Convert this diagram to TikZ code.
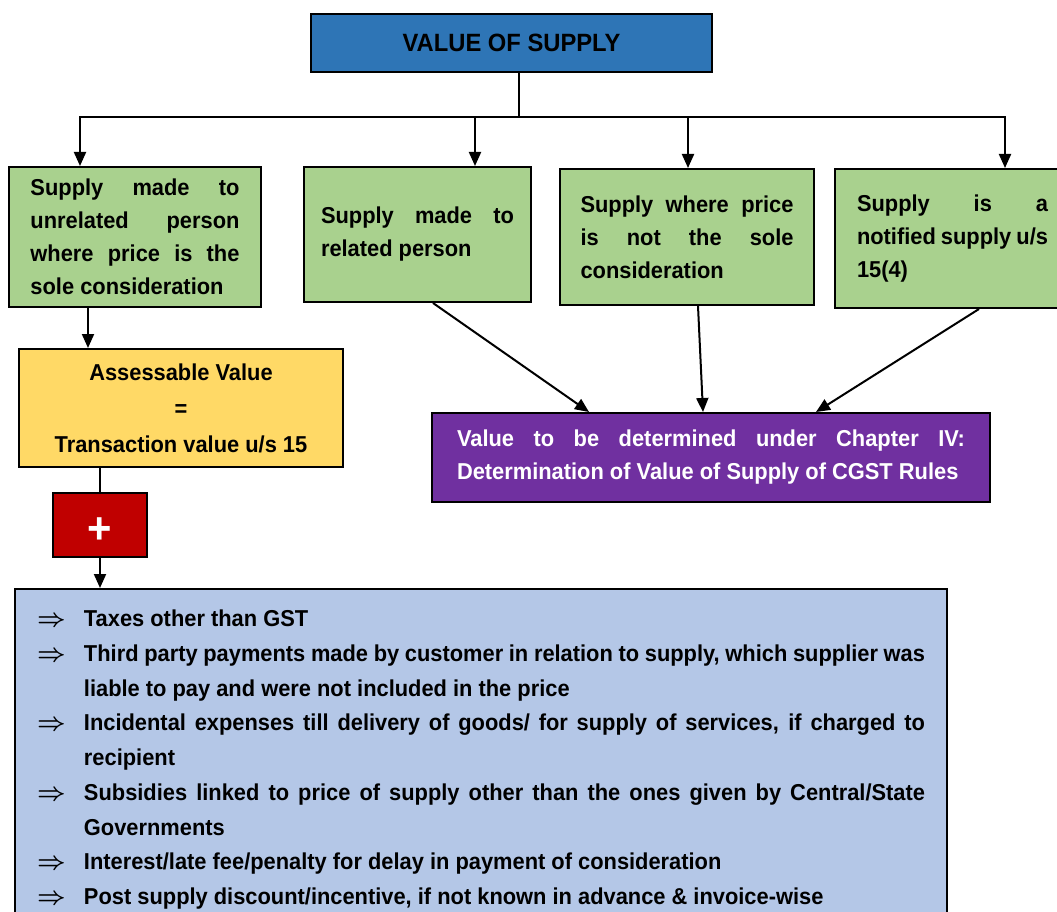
\documentclass[tikz,border=0pt]{standalone}
\usepackage{amsmath}
\usepackage{fontspec}
\setmainfont{Liberation Sans}[FakeStretch=0.95]
\usetikzlibrary{arrows.meta}
\definecolor{supplyBlue}{HTML}{2E75B6}
\definecolor{supplyGreen}{HTML}{A9D18E}
\definecolor{supplyYellow}{HTML}{FFD966}
\definecolor{supplyRed}{HTML}{C00000}
\definecolor{supplyPurple}{HTML}{7030A0}
\definecolor{supplyList}{HTML}{B4C7E7}
\newcommand{\supplyItem}[1]{\hangindent=47pt\hangafter=1\noindent\makebox[47pt][l]{\fontsize{26}{26}\selectfont$\boldsymbol{\Rightarrow}$}#1\par}

\begin{document}
\begin{tikzpicture}
[x=1pt, y=-1pt,
 lineDecorate/.style={-{Triangle[length=14pt,width=12pt]},line width=2pt},
 plainDecorate/.style={line width=2pt},
 boxDecorate/.style={draw,line width=2pt,inner sep=0pt,font=\fontsize{23}{33}\selectfont\bfseries},
 greenDecorate/.style={boxDecorate,fill=supplyGreen,align=justify}]

\useasboundingbox (0,0) rectangle (1057,912);
\clip (0,0) rectangle (1057,912);

\node (T) at (511.5,43) [boxDecorate, fill=supplyBlue, minimum width=401, minimum height=58, font=\fontsize{25}{30}\selectfont\bfseries] {VALUE OF SUPPLY};

 \foreach \nodename/\x/\y/\w/\h/\tw/\txt in {
G1/135/237/252/140/209/{Supply made to\linebreak unrelated person\linebreak where price is the\linebreak sole consideration},
G2/417.5/234.5/227/135/193/{Supply made to\linebreak related person},
G3/687/237/254/136/213/{Supply where price\linebreak is not the sole\linebreak consideration},
G4/952.5/238.5/235/139/191/{Supply is a\linebreak notified supply u/s\linebreak 15(4)}
 }
 {
          \node (\nodename) at (\x,\y) [greenDecorate, minimum width=\w, minimum height=\h, text width=\tw] {\txt};
 }

\node (Y) at (181,408) [boxDecorate, fill=supplyYellow, minimum width=324, minimum height=118, align=center, font=\fontsize{23}{36}\selectfont\bfseries] {Assessable Value\\=\\Transaction value u/s 15};
\node (R) at (100,525) [boxDecorate, fill=supplyRed, minimum width=94, minimum height=64, text=white, font=\fontsize{44}{44}\selectfont\bfseries] {\raisebox{-18pt}[0pt][0pt]{+}};
\node (P) at (711,457.5) [boxDecorate, fill=supplyPurple, text=white, minimum width=558, minimum height=89, text width=508, align=justify] {Value to be determined under Chapter IV:\linebreak Determination of Value of Supply of CGST Rules};

\node (L) at (14,588) [boxDecorate, anchor=north west, fill=supplyList, inner xsep=22, inner ysep=21, text width=888, align=justify, font=\fontsize{23}{34.75}\selectfont\bfseries] {%
\supplyItem{Taxes other than GST}
\supplyItem{Third party payments made by customer in relation to supply, which supplier was\linebreak liable to pay and were not included in the price}
\supplyItem{Incidental expenses till delivery of goods/ for supply of services, if charged to\linebreak recipient}
\supplyItem{Subsidies linked to price of supply other than the ones given by Central/State\linebreak Governments}
\supplyItem{Interest/late fee/penalty for delay in payment of consideration}
\supplyItem{Post supply discount/incentive, if not known in advance \& invoice-wise}};

\coordinate (J) at (519,117);
\draw[plainDecorate] (T.south -| J) -- (J);
\foreach \endnode/\shift in {G1/-55,G2/57.5,G3/1,G4/52.5}
        {
          \draw[lineDecorate] (J) -| ([xshift=\shift]\endnode.north);
        }

\draw[lineDecorate] ([xshift=-47]G1.south) -- ([xshift=-93]Y.north);
\draw[plainDecorate] (R.north |- Y.south) -- (R.north);
\draw[lineDecorate] (R.south) -- (R.south |- L.north);
\draw[lineDecorate] ([xshift=15.5]G2.south) -- ([xshift=-122]P.north);
\draw[lineDecorate] ([xshift=11]G3.south) -- ([xshift=-8]P.north);
\draw[lineDecorate] ([xshift=26.5]G4.south) -- ([xshift=105]P.north);
        \end{tikzpicture}
\end{document}
